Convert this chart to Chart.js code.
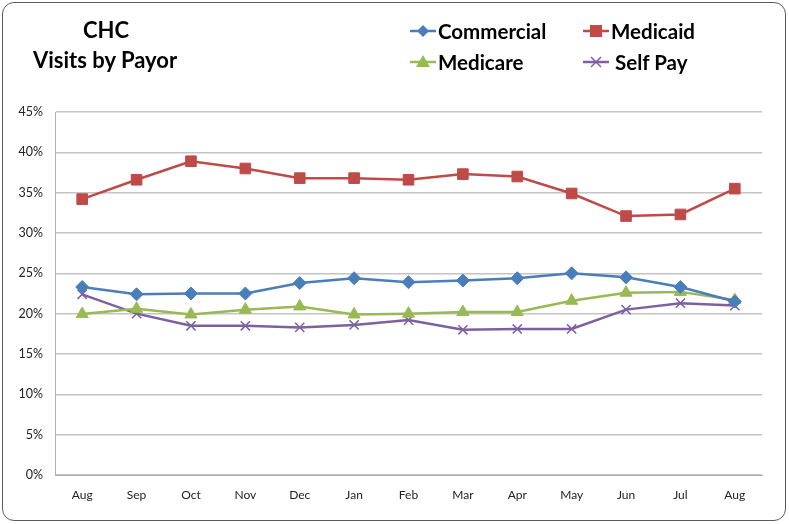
<!DOCTYPE html>
<html><head><meta charset="utf-8">
<script src="https://cdn.jsdelivr.net/npm/chart.js@4/dist/chart.umd.min.js"></script>
<style>
html,body{margin:0;padding:0;background:#fff;}
#wrap{position:relative;width:789px;height:524px;overflow:hidden;}
#frame{position:absolute;left:2px;top:2px;width:784px;height:519px;border:1.5px solid #5a5a5a;border-radius:12px;box-sizing:border-box;pointer-events:none;}
canvas{position:absolute;left:0;top:0;}
.t{position:absolute;font-family:Lato,"Open Sans",sans-serif;font-weight:bold;font-size:22px;color:#000;white-space:nowrap;line-height:1;}
.leg{position:absolute;display:flex;align-items:center;font-family:Lato,"Open Sans",sans-serif;font-weight:bold;font-size:20.5px;white-space:nowrap;line-height:1;}
.leg svg{margin-right:2px;}
</style></head>
<body><div id="wrap">
<canvas id="c" width="789" height="524"></canvas>
<div class="t" style="left:0;width:212px;text-align:center;top:19px;">CHC</div>
<div class="t" style="left:33px;top:49px;">Visits by Payor</div>
<div id="legend"></div>
<div id="frame"></div>
</div>
<script>
const months = ["Aug","Sep","Oct","Nov","Dec","Jan","Feb","Mar","Apr","May","Jun","Jul","Aug"];
const commercial = [23.3,22.4,22.5,22.5,23.8,24.4,23.9,24.1,24.4,25.0,24.5,23.3,21.5];
const medicaid   = [34.2,36.6,38.9,38.0,36.8,36.8,36.6,37.3,37.0,34.9,32.1,32.3,35.5];
const medicare   = [19.95,20.6,19.9,20.5,20.9,19.9,20.0,20.2,20.2,21.6,22.6,22.7,21.7];
const selfPay    = [22.4,20.0,18.5,18.5,18.3,18.6,19.2,18.0,18.1,18.1,20.5,21.3,21.0];
const yTicks = [0,5,10,15,20,25,30,35,40,45];

const series = [
  {label:"Commercial", data:commercial, color:"#4A7EBB", style:"rectRot", r:6.5},
  {label:"Medicaid", data:medicaid, color:"#BE4B48", style:"rect", r:7.5},
  {label:"Medicare", data:medicare, color:"#98B954", style:"triangle", r:7},
  {label:"Self Pay", data:selfPay, color:"#7D60A0", style:"crossRot", r:6.5}
];

new Chart(document.getElementById('c'), {
  type:'line',
  data:{labels:months, datasets:series.map(s=>({
    label:s.label, data:s.data, borderColor:s.color, backgroundColor:s.color,
    borderWidth:2.5, pointStyle:s.style, pointRadius:s.r, pointHoverRadius:s.r,
    pointBorderColor:s.color, pointBackgroundColor:s.color, pointBorderWidth:s.style==="crossRot"?1.5:1,
    tension:0, fill:false
  }))},
  options:{
    responsive:false, animation:false, devicePixelRatio:1,
    layout:{padding:{left:0,right:27,top:112,bottom:0}},
    plugins:{legend:{display:false}, title:{display:false}, tooltip:{enabled:false}},
    scales:{
      x:{
        offset:true,
        grid:{display:false, drawTicks:false, offset:true},
        border:{color:"#b0b0b0", width:1},
        ticks:{padding:13, color:"#222", font:{family:"Lato, Open Sans, sans-serif", size:12}, maxRotation:0, autoSkip:false},
        afterFit:s=>{s.height=49;}
      },
      y:{
        min:0, max:45,
        afterBuildTicks:s=>{s.ticks=yTicks.map(v=>({value:v}));},
        grid:{color:"#c4c4c4", lineWidth:1.5, drawTicks:false},
        border:{color:"#b0b0b0", width:1},
        ticks:{padding:12, color:"#222", callback:v=>v+"%", font:{family:"Lato, Open Sans, sans-serif", size:12.5}},
        afterFit:s=>{s.width=55;}
      }
    }
  }
});

const legPos = [[410,20],[583,20],[410,51],[583,51]];
const lg = document.getElementById('legend');
series.forEach((s,i)=>{
  const d=document.createElement('div'); d.className='leg';
  d.style.left=legPos[i][0]+'px'; d.style.top=legPos[i][1]+'px';
  let m='';
  const c=s.color;
  if(s.style==='rectRot') m=`<polygon points="13,5 19,11 13,17 7,11" fill="${c}"/>`;
  if(s.style==='rect') m=`<rect x="7" y="5" width="12" height="12" fill="${c}"/>`;
  if(s.style==='triangle') m=`<polygon points="13,4 20,16 6,16" fill="${c}"/>`;
  if(s.style==='crossRot') m=`<path d="M8,6 L18,16 M18,6 L8,16" stroke="${c}" stroke-width="1.5"/>`;
  d.innerHTML=`<svg width="26" height="22"><line x1="0" y1="11" x2="26" y2="11" stroke="${c}" stroke-width="2.5"/>${m}</svg><span${s.style==='crossRot'?' style="margin-left:4px"':''}>${s.label}</span>`;
  lg.appendChild(d);
});
</script>
</body></html>
